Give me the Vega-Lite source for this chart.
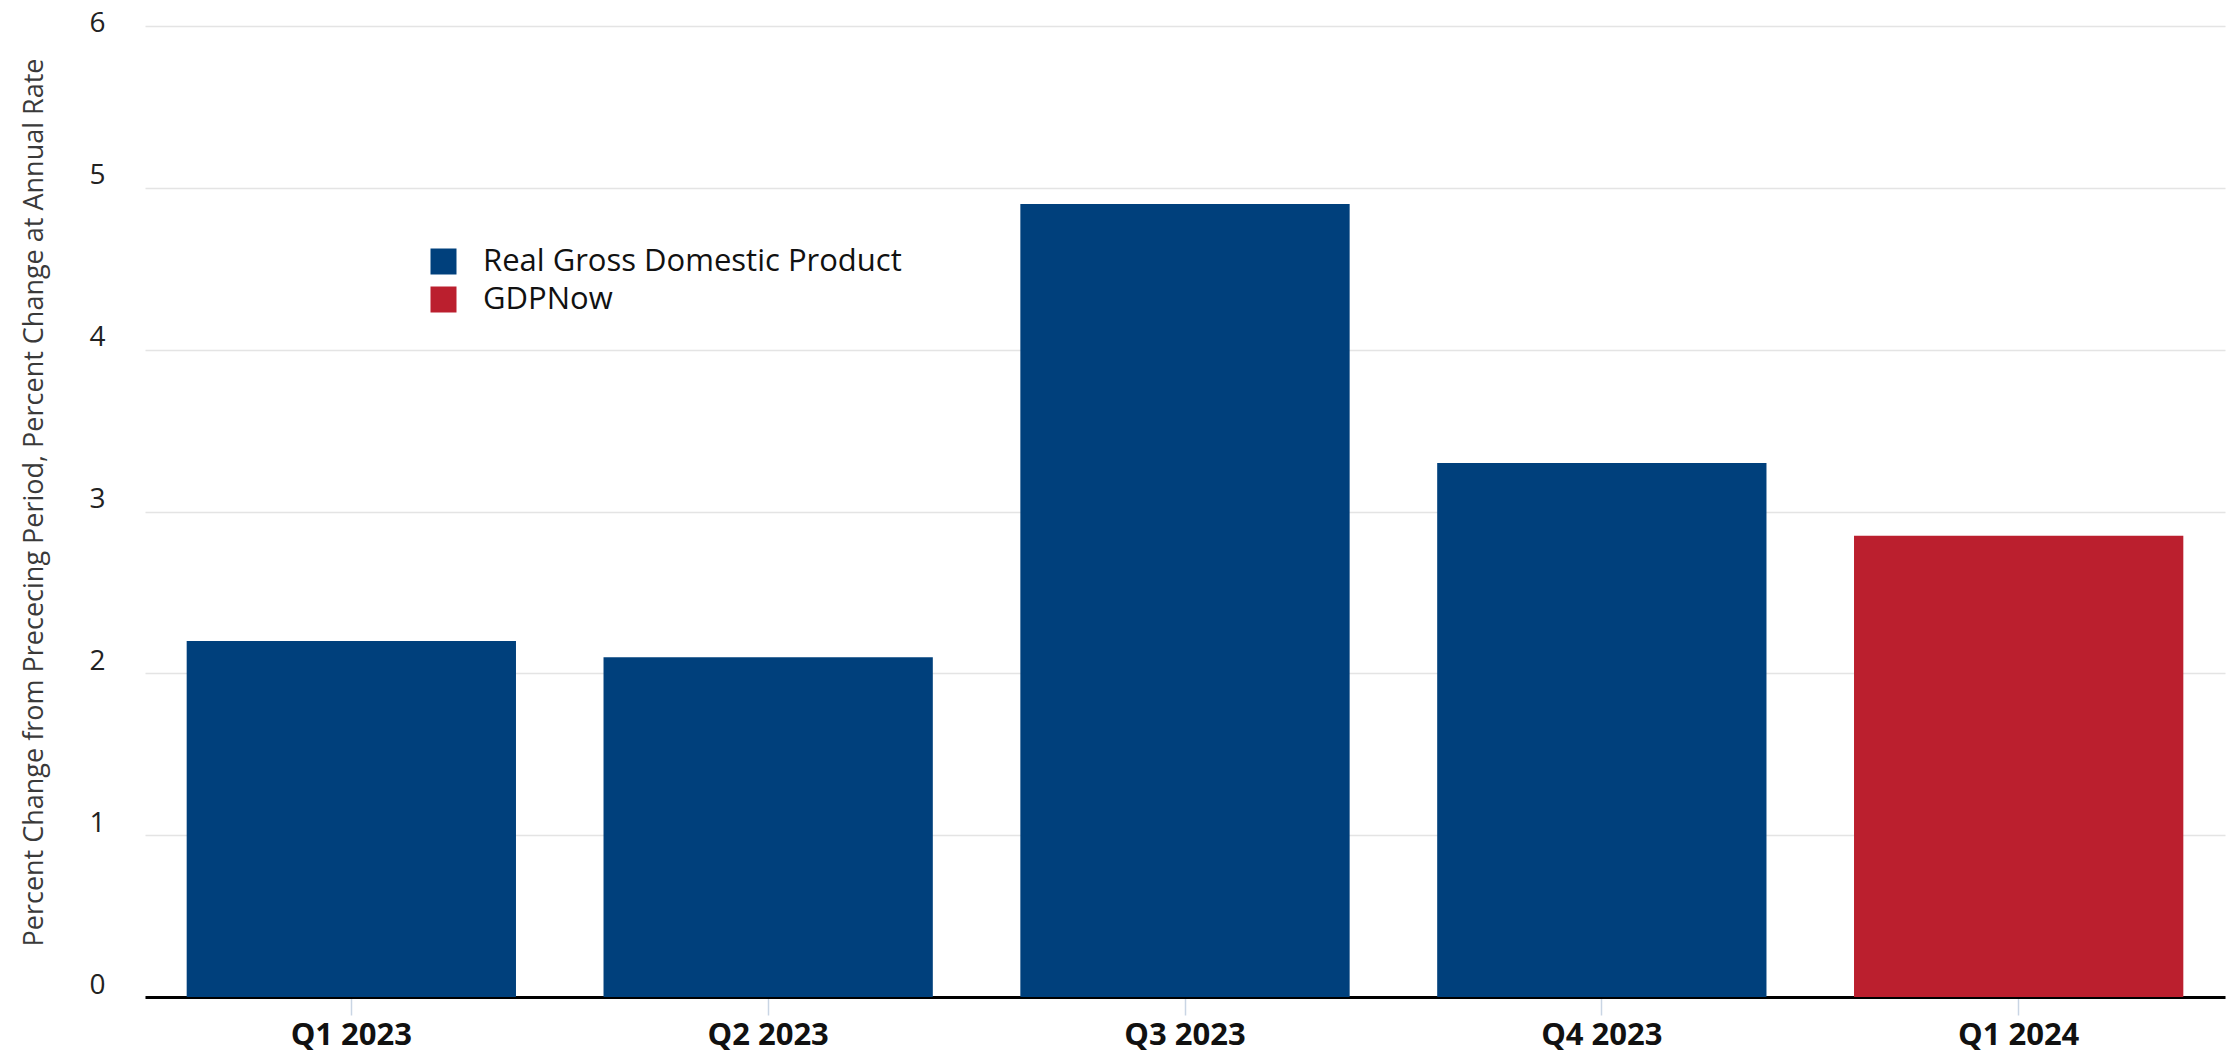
{
  "$schema": "https://vega.github.io/schema/vega-lite/v6.json",
  "autosize": {"type": "none"},
  "width": 2080,
  "height": 971,
  "padding": {"left": 145, "top": 26, "right": 8, "bottom": 59},
  "background": "white",
  "config": {
    "view": {"stroke": null},
    "font": "Open Sans"
  },
  "data": {
    "values": [
      {"quarter": "Q1 2023", "value": 2.2, "series": "Real Gross Domestic Product"},
      {"quarter": "Q2 2023", "value": 2.1, "series": "Real Gross Domestic Product"},
      {"quarter": "Q3 2023", "value": 4.9, "series": "Real Gross Domestic Product"},
      {"quarter": "Q4 2023", "value": 3.3, "series": "Real Gross Domestic Product"},
      {"quarter": "Q1 2024", "value": 2.85, "series": "GDPNow"}
    ]
  },
  "mark": {"type": "bar"},
  "encoding": {
    "x": {
      "field": "quarter",
      "type": "nominal",
      "sort": null,
      "scale": {"paddingInner": 0.21, "paddingOuter": 0.1},
      "axis": {
        "title": null,
        "labelAngle": 0,
        "labelFont": "Open Sans",
        "labelFontSize": 31,
        "labelFontWeight": "bold",
        "labelColor": "#111111",
        "labelPadding": 5,
        "labelBaseline": "top",
        "domainColor": "#000000",
        "domainWidth": 3,
        "ticks": true,
        "tickColor": "#c9d5e4",
        "tickWidth": 1.5,
        "tickSize": 18,
        "grid": false
      }
    },
    "y": {
      "field": "value",
      "type": "quantitative",
      "scale": {"domain": [0, 6], "nice": false},
      "axis": {
        "values": [0, 1, 2, 3, 4, 5, 6],
        "title": "Percent Change from Prececing Period, Percent Change at Annual Rate",
        "titleFont": "Open Sans",
        "titleFontSize": 27,
        "titleFontWeight": "normal",
        "titleColor": "#3a3a3a",
        "titlePadding": 40,
        "titleY": 476,
        "labelFont": "Open Sans",
        "labelFontSize": 28,
        "labelColor": "#222222",
        "labelPadding": 40,
        "labelBaseline": "alphabetic",
        "labelOffset": {"condition": {"test": "datum.value == 6", "value": 5}, "value": -4},
        "ticks": false,
        "tickSize": 0,
        "domain": false,
        "grid": true,
        "gridColor": "#e4e4e4",
        "gridWidth": 1.5
      }
    },
    "color": {
      "field": "series",
      "type": "nominal",
      "scale": {
        "domain": ["Real Gross Domestic Product", "GDPNow"],
        "range": ["#00407c", "#bb1f2e"]
      },
      "legend": {
        "title": null,
        "orient": "none",
        "legendX": 283,
        "legendY": 220,
        "padding": 0,
        "symbolType": "square",
        "symbolSize": 676,
        "symbolStrokeWidth": 0,
        "labelFont": "Open Sans",
        "labelFontSize": 31,
        "labelColor": "#111111",
        "labelOffset": 24,
        "labelLimit": 0,
        "rowPadding": 6
      }
    }
  }
}
